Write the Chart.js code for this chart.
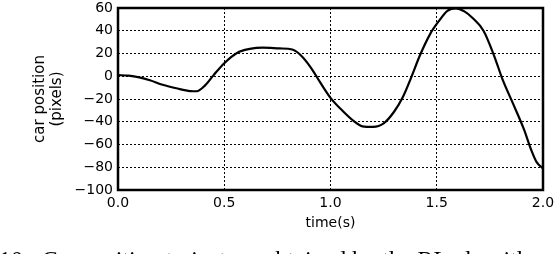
<!DOCTYPE html>
<html lang="en">
<head>
    <meta charset="UTF-8">
    <title>Car position</title>
    <style>
        body {
            margin: 0;
            padding: 0;
            background-color: #fff;
        }
        #wrap {
            width: 560px;
            height: 254px;
        }
    </style>
</head>
<body>
<div id="wrap">
    <canvas id="posChart" width="560" height="254"></canvas>
</div>

<script src="https://cdn.jsdelivr.net/npm/chart.js"></script>
<script>
    // time (s) and car position (pixels)
    const timeValues = [
        0.00, 0.05, 0.10, 0.15, 0.21, 0.28, 0.34, 0.37, 0.41, 0.45,
        0.50, 0.56, 0.62, 0.68, 0.76, 0.82, 0.86, 0.91, 0.95, 1.00,
        1.06, 1.11, 1.15, 1.20, 1.25, 1.30, 1.34, 1.38, 1.42, 1.47,
        1.51, 1.55, 1.59, 1.63, 1.67, 1.72, 1.77, 1.81, 1.86, 1.91,
        1.945, 1.97, 2.00
    ];
    const positionValues = [
        1, 0.5, -1, -3.5, -7.5, -10.8, -13, -13.2, -8, 1,
        11.5, 20.5, 24, 25.2, 24.5, 23.5, 18.5, 7, -5, -19,
        -31, -39.5, -44, -44.5, -41.5, -31, -18.5, -1, 18, 37.5,
        48.5, 57.5, 59.7, 57, 51, 40, 18, -3, -24.5, -46.5,
        -65, -75.5, -81
    ];
    const xTicks = [0, 0.5, 1.0, 1.5, 2.0];
    const yTicks = [60, 40, 20, 0, -20, -40, -60, -80, -100];

    // caption of the figure, only its top edge is inside the picture
    const captionText = '10:  Car position trajectory obtained by the RL algorithm';

    const points = timeValues.map((t, i) => ({ x: t, y: positionValues[i] }));

    // thick frame round the plot + the cut-off caption below it
    const framePlugin = {
        id: 'frame',
        afterDraw(chart) {
            const ctx = chart.ctx;
            const a = chart.chartArea;
            ctx.save();
            ctx.strokeStyle = '#000';
            ctx.lineWidth = 2.5;
            ctx.strokeRect(a.left, a.top, a.right - a.left, a.bottom - a.top);
            ctx.fillStyle = '#000';
            ctx.font = "24px 'Liberation Serif'";
            ctx.textBaseline = 'alphabetic';
            ctx.fillText(captionText, -1, 267);
            ctx.restore();
        }
    };

    const gridStyle = {
        color: '#000',
        lineWidth: 1,
        drawTicks: false
    };

    const ctx = document.getElementById('posChart').getContext('2d');
    new Chart(ctx, {
        type: 'line',
        data: {
            datasets: [{
                data: points,
                borderColor: '#000',
                borderWidth: 2.2,
                pointRadius: 0,
                fill: false,
                cubicInterpolationMode: 'monotone'
            }]
        },
        options: {
            responsive: false,
            animation: false,
            layout: {
                padding: { top: 8, right: 17, bottom: 0, left: 0 }
            },
            plugins: {
                legend: { display: false },
                tooltip: { enabled: false }
            },
            scales: {
                x: {
                    type: 'linear',
                    min: 0,
                    max: 2,
                    afterFit(scale) {
                        scale.height = 64;
                        scale.paddingLeft = 0;
                        scale.paddingRight = 0;
                    },
                    afterBuildTicks(scale) {
                        scale.ticks = xTicks.map(v => ({ value: v }));
                    },
                    grid: gridStyle,
                    border: { display: false, dash: [2, 2] },
                    ticks: {
                        color: '#000',
                        padding: 5,
                        maxRotation: 0,
                        font: { family: 'DejaVu Sans', size: 14 },
                        callback: v => v.toFixed(1)
                    },
                    title: {
                        display: true,
                        text: 'time(s)',
                        color: '#000',
                        font: { family: 'DejaVu Sans', size: 14 },
                        padding: { top: 0, bottom: 22 }
                    }
                },
                y: {
                    type: 'linear',
                    min: -100,
                    max: 60,
                    afterFit(scale) {
                        scale.width = 118;
                        scale.paddingTop = 0;
                        scale.paddingBottom = 0;
                    },
                    afterBuildTicks(scale) {
                        scale.ticks = yTicks.map(v => ({ value: v }));
                    },
                    grid: gridStyle,
                    border: { display: false, dash: [2, 2] },
                    ticks: {
                        color: '#000',
                        padding: 5,
                        font: { family: 'DejaVu Sans', size: 14 },
                        callback: v => (v < 0 ? '\u2212' + Math.abs(v) : String(v))
                    },
                    title: {
                        display: true,
                        text: ['car position', '(pixels)'],
                        color: '#000',
                        font: { family: 'DejaVu Sans', size: 15, lineHeight: 1.1 },
                        padding: { top: 32, bottom: 0 }
                    }
                }
            }
        },
        plugins: [framePlugin]
    });
</script>
</body>
</html>
